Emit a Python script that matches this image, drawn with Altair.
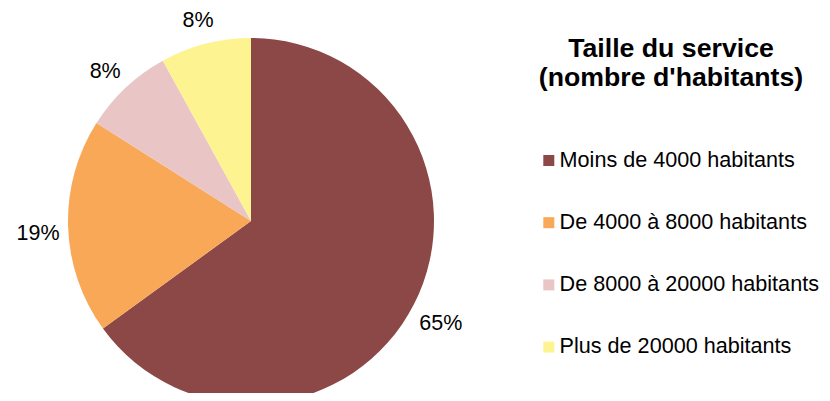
import altair as alt
import pandas as pd

categories = ["Moins de 4000 habitants", "De 4000 à 8000 habitants",
              "De 8000 à 20000 habitants", "Plus de 20000 habitants"]
values = [65, 19, 8, 8]
labels = ["65%", "19%", "8%", "8%"]
colors = ["#8C4846", "#F8A857", "#E9C5C5", "#FEF391"]

df = pd.DataFrame({"cat": categories, "val": values, "lab": labels,
                   "idx": list(range(len(categories)))})

FONT = "Liberation Sans"

base = alt.Chart(df).encode(
    theta=alt.Theta("val:Q", stack=True),
    order=alt.Order("idx:Q"),
    x=alt.value(243),
    y=alt.value(213),
)

arcs = base.mark_arc(radius=183, stroke=None).encode(
    color=alt.Color(
        "cat:N",
        scale=alt.Scale(domain=categories, range=colors),
        sort=categories,
        legend=alt.Legend(
            title=["Taille du service", "(nombre d'habitants)"],
            orient="none",
            legendX=516,
            legendY=28,
            padding=0,
            titleFont=FONT,
            titleFontSize=26.7,
            titleFontWeight="bold",
            titleColor="#000000",
            titleAnchor="middle",
            titleAlign="center",
            titleLineHeight=29,
            titlePadding=58,
            titleLimit=500,
            labelFont=FONT,
            labelFontSize=21.6,
            labelColor="#000000",
            labelOffset=0,
            labelLimit=400,
            symbolType="square",
            symbolSize=121,
            symbolStrokeWidth=0,
            symbolOffset=14,
            rowPadding=39.2,
        ),
    ),
)

texts = base.mark_text(radius=213, dy=6, font=FONT, fontSize=21.5, color="#000000").encode(
    text="lab:N"
)

chart = (arcs + texts).properties(
    width=814, height=385, padding=0,
    autosize=alt.AutoSizeParams(type="none"),
).configure_view(stroke=None)

chart.save("out.html", embed_options={"renderer": "svg", "actions": False})
